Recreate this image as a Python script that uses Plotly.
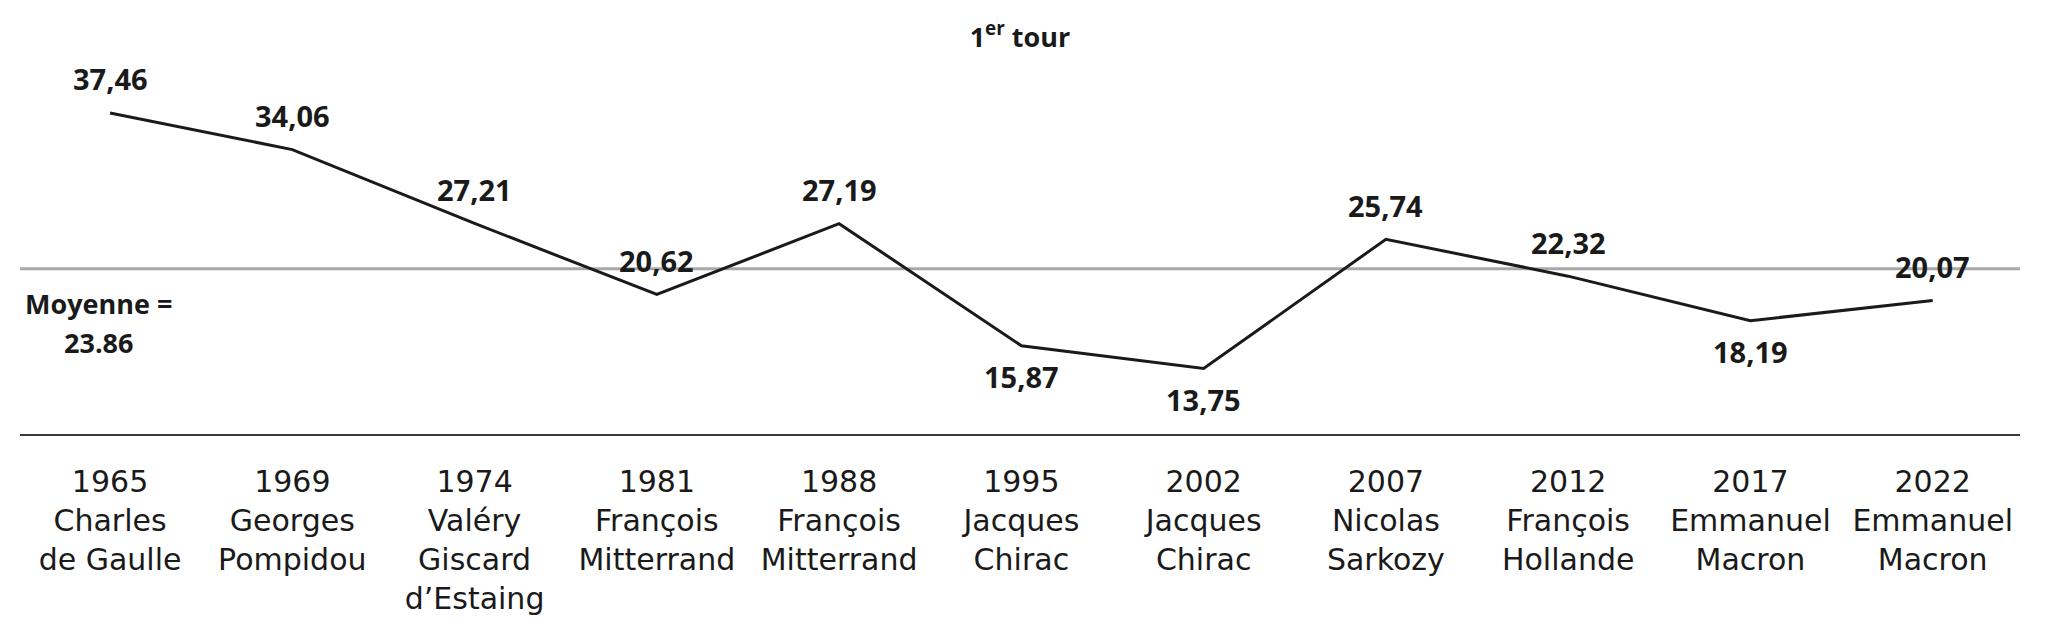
import plotly.graph_objects as go

# data
years = ["1965", "1969", "1974", "1981", "1988", "1995", "2002", "2007", "2012", "2017", "2022"]
candidates = ["Charles<br>de Gaulle", "Georges<br>Pompidou", "Valéry<br>Giscard<br>d’Estaing",
              "François<br>Mitterrand", "François<br>Mitterrand", "Jacques<br>Chirac",
              "Jacques<br>Chirac", "Nicolas<br>Sarkozy", "François<br>Hollande",
              "Emmanuel<br>Macron", "Emmanuel<br>Macron"]
scores = [37.46, 34.06, 27.21, 20.62, 27.19, 15.87, 13.75, 25.74, 22.32, 18.19, 20.07]
mean_label = "23.86"
mean_line = 23.0   # where the grey line sits in the picture

# which labels go under the line
below = {"1995", "2002", "2017"}

FONT = "Open Sans"
TICK_FONT = "DejaVu Sans"
INK = "#1a1a1a"

ticks = [y + "<br>" + c for y, c in zip(years, candidates)]
xs = list(range(len(years)))

fig = go.Figure()
fig.add_trace(go.Scatter(
    x=xs, y=scores,
    mode="lines",
    line=dict(color=INK, width=3),
    hoverinfo="skip",
    showlegend=False,
))

# mean line
fig.add_shape(type="line", xref="paper", x0=0, x1=1, yref="y", y0=mean_line, y1=mean_line,
              line=dict(color="#a8a8a8", width=3), layer="below")

# value labels
for x, yr, v in zip(xs, years, scores):
    fig.add_annotation(
        x=x, y=v, text=f"{v:.2f}".replace(".", ","),
        showarrow=False,
        yshift=-31 if yr in below else 34,
        font=dict(family=FONT, size=29, color=INK, weight="bold"),
    )

# "Moyenne =" and its value, one annotation per line to get the wider spacing
fig.add_annotation(
    xref="paper", yref="paper", x=0.0393, y=0.35,
    xanchor="center", yanchor="middle",
    text="Moyenne =", showarrow=False,
    font=dict(family=FONT, size=27, color=INK, weight="bold"),
)
fig.add_annotation(
    xref="paper", yref="paper", x=0.0393, y=0.245,
    xanchor="center", yanchor="middle",
    text=mean_label, showarrow=False,
    font=dict(family=FONT, size=27, color=INK, weight="bold"),
)

# the page adds an 8px margin, so the figure is 8px smaller than the window
fig.update_layout(
    width=2044, height=634,
    margin=dict(l=12, r=32, t=52, b=208),
    paper_bgcolor="white", plot_bgcolor="white",
    title=dict(text="1<sup>er</sup> tour", x=0.5, xref="paper", y=0.954, yref="container",
               xanchor="center", yanchor="middle",
               font=dict(family=FONT, size=27, color=INK, weight="bold")),
    font=dict(family=FONT, color=INK),
)
fig.update_xaxes(
    range=[-0.494, 10.479],
    tickmode="array", tickvals=xs, ticktext=ticks,
    tickfont=dict(family=TICK_FONT, size=30, color=INK),
    showline=True, linecolor="#3a3a3a", linewidth=2,
    showgrid=False, zeroline=False, ticks="", ticklabelstandoff=20,
)
fig.update_yaxes(range=[7.68, 42.37], visible=False, showgrid=False, zeroline=False)

fig.write_html("out.html")
